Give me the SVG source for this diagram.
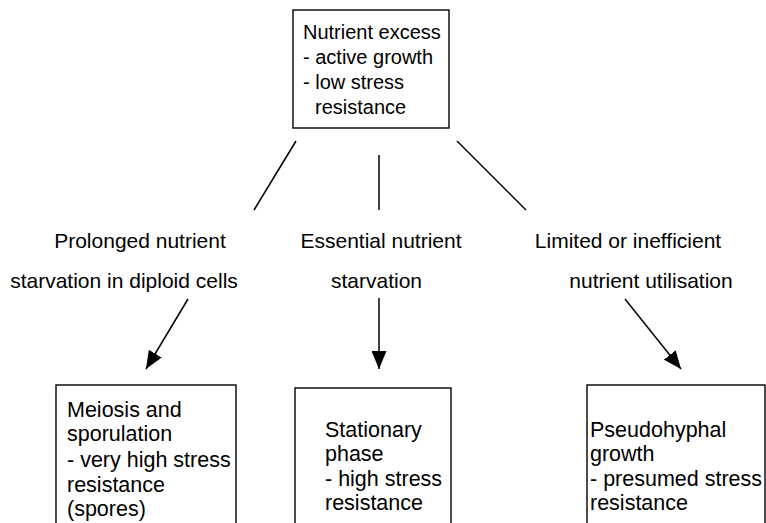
<svg xmlns="http://www.w3.org/2000/svg" width="766" height="523" viewBox="0 0 766 523">
<defs>
<style>
.box{fill:#fff;stroke:#000;stroke-width:1.4}
.t{font-family:"Liberation Sans",Arial,sans-serif;font-size:20px;fill:#000}
.b{font-family:"Liberation Sans",Arial,sans-serif;font-size:21.5px;fill:#000}
.lbl{font-family:"Liberation Sans",Arial,sans-serif;font-size:21px;fill:#000}
.ln{stroke:#000;stroke-width:1.5;fill:none}
</style>
<marker id="ah2" viewBox="0 0 18 15" refX="18" refY="7.5" markerWidth="18" markerHeight="15" markerUnits="userSpaceOnUse" orient="auto">
<path d="M0,0 L18,7.5 L0,15 z" fill="#000"/>
</marker>
</defs>
<rect width="766" height="523" fill="#fff"/>
<g id="top">
<rect class="box" x="293" y="10" width="156" height="118"/>
<text class="t" x="303" y="39">Nutrient excess</text>
<text class="t" x="303" y="64">- active growth</text>
<text class="t" x="303" y="89">- low stress</text>
<text class="t" x="315" y="114">resistance</text>
</g>
<g id="label-prolonged">
<text class="lbl" x="140" y="248" text-anchor="middle">Prolonged nutrient</text>
<text class="lbl" x="124" y="288" text-anchor="middle">starvation in diploid cells</text>
</g>
<g id="label-essential">
<text class="lbl" x="381" y="248" text-anchor="middle">Essential nutrient</text>
<text class="lbl" x="376.5" y="288" text-anchor="middle">starvation</text>
</g>
<g id="label-limited">
<text class="lbl" x="628" y="248" text-anchor="middle">Limited or inefficient</text>
<text class="lbl" x="651" y="288" text-anchor="middle">nutrient utilisation</text>
</g>
<g id="meiosis">
<rect class="box" x="56" y="385" width="180" height="150"/>
<text class="b" x="67" y="417">Meiosis and</text>
<text class="b" x="67" y="441">sporulation</text>
<text class="b" x="67" y="467">- very high stress</text>
<text class="b" x="67" y="492">resistance</text>
<text class="b" x="67" y="516">(spores)</text>
</g>
<g id="stationary">
<rect class="box" x="295" y="388" width="156" height="150"/>
<text class="b" x="325" y="437">Stationary</text>
<text class="b" x="325" y="461">phase</text>
<text class="b" x="325" y="486">- high stress</text>
<text class="b" x="325" y="510">resistance</text>
</g>
<g id="pseudohyphal">
<rect class="box" x="587" y="385" width="178" height="150"/>
<text class="b" x="590" y="437">Pseudohyphal</text>
<text class="b" x="590" y="461">growth</text>
<text class="b" x="590" y="486">- presumed stress</text>
<text class="b" x="590" y="510">resistance</text>
</g>
<g id="connectors">
<line class="ln" x1="296" y1="141" x2="254" y2="210"/>
<line class="ln" x1="379" y1="155" x2="379" y2="210"/>
<line class="ln" x1="457" y1="141" x2="526" y2="210"/>
<line class="ln" x1="188" y1="299" x2="146" y2="369" marker-end="url(#ah2)"/>
<line class="ln" x1="379" y1="298" x2="379" y2="369" marker-end="url(#ah2)"/>
<line class="ln" x1="625" y1="299" x2="681" y2="369" marker-end="url(#ah2)"/>
</g>
</svg>
